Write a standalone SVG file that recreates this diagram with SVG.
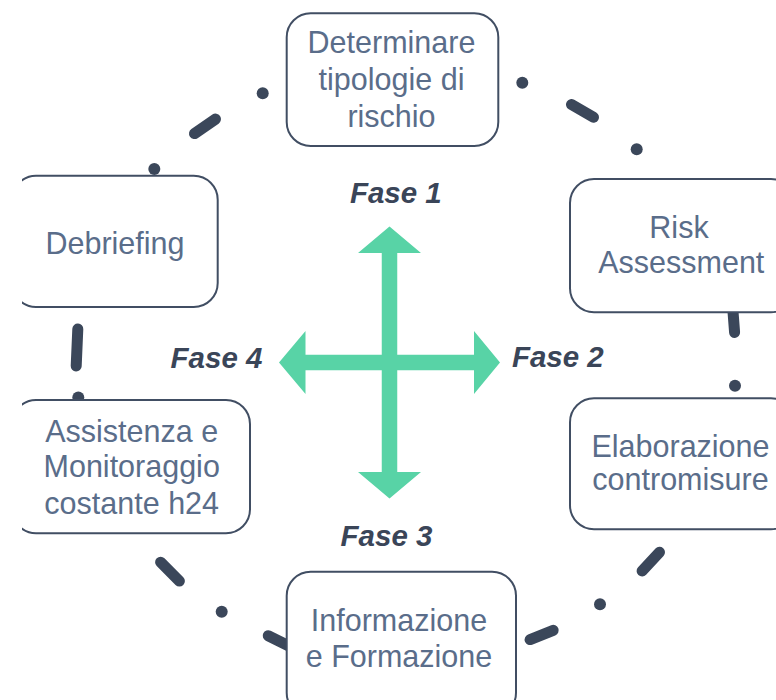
<svg xmlns="http://www.w3.org/2000/svg" width="776" height="700" viewBox="0 0 776 700">
<defs>
<clipPath id="clipL"><rect x="22" y="0" width="754" height="700"/></clipPath>
<style>
.box{fill:#fff;stroke:#414e63;stroke-width:2}
.lbl{font-family:"Liberation Sans",Arial,sans-serif;font-size:30.5px;fill:#5a6d8a;text-anchor:middle}
.fase{font-family:"Liberation Sans",Arial,sans-serif;font-size:29.5px;font-weight:bold;font-style:italic;fill:#3a4558;text-anchor:middle}
.ring line{stroke:#3b475a;stroke-width:11;stroke-linecap:round}
.ring circle{fill:#3b475a}
</style>
</defs>
<rect width="776" height="700" fill="#fff"/>
<g id="connectors" class="ring">
<circle cx="262.7" cy="93.3" r="6"/>
<line x1="194.5" y1="133.6" x2="215.5" y2="119.1"/>
<circle cx="154.3" cy="169" r="6"/>
<line x1="77.8" y1="329" x2="76.2" y2="366"/>
<circle cx="78.3" cy="397.5" r="6"/>
<line x1="160.6" y1="562.2" x2="179.4" y2="581.1"/>
<circle cx="221.7" cy="611.7" r="6"/>
<line x1="268.2" y1="635.8" x2="295" y2="649"/>
<line x1="530.1" y1="639.6" x2="553.2" y2="630.3"/>
<circle cx="600" cy="604.3" r="6"/>
<line x1="642.1" y1="571" x2="659.5" y2="552.3"/>
<circle cx="735" cy="385.7" r="6"/>
<line x1="732.5" y1="305" x2="734.6" y2="332.5"/>
<circle cx="636.7" cy="149.3" r="6"/>
<line x1="571.5" y1="104.5" x2="593.5" y2="117.2"/>
<circle cx="522.3" cy="82.7" r="6"/>
</g>
<g id="cross">
<polygon fill="#58d3a6" points="389.5,226.5 421,253 397.25,253 397.25,354.75 474,354.75 474,331 500,362.5 474,394 474,370.25 397.25,370.25 397.25,472 421,472 389.5,498.5 358,472 381.75,472 381.75,370.25 305.5,370.25 305.5,394 279,362.5 305.5,331 305.5,354.75 381.75,354.75 381.75,253 358,253"/>
</g>
<g id="node-tipologie">
<rect class="box" x="286.7" y="13.3" width="211.6" height="132.7" rx="24"/>
<text class="lbl" x="391.5" y="53.3">Determinare</text>
<text class="lbl" x="391.5" y="90.3">tipologie di</text>
<text class="lbl" x="391.5" y="127">rischio</text>
</g>
<g id="node-risk">
<rect class="box" x="570" y="179" width="225" height="133.3" rx="24"/>
<text class="lbl" x="679" y="238.3">Risk</text>
<text class="lbl" x="681.3" y="273.3">Assessment</text>
</g>
<g id="node-elaborazione">
<rect class="box" x="570" y="398.3" width="225" height="131" rx="24"/>
<text class="lbl" x="680.5" y="456.7">Elaborazione</text>
<text class="lbl" x="680.5" y="490">contromisure</text>
</g>
<g id="node-informazione">
<rect class="box" x="286.7" y="571.7" width="229.3" height="145" rx="24"/>
<text class="lbl" x="399" y="630.7">Informazione</text>
<text class="lbl" x="399" y="667.3">e Formazione</text>
</g>
<g id="node-assistenza" clip-path="url(#clipL)">
<rect class="box" x="12" y="400" width="238" height="133.3" rx="24"/>
<text class="lbl" x="131.7" y="441.7">Assistenza e</text>
<text class="lbl" x="131.7" y="477.3">Monitoraggio</text>
<text class="lbl" x="131.7" y="514">costante h24</text>
</g>
<g id="node-debriefing" clip-path="url(#clipL)">
<rect class="box" x="12" y="175.7" width="205.7" height="131.3" rx="24"/>
<text class="lbl" x="115" y="254">Debriefing</text>
</g>
<g id="labels">
<text class="fase" x="395.8" y="202.7">Fase 1</text>
<text class="fase" x="557.8" y="366.7">Fase 2</text>
<text class="fase" x="386.5" y="546">Fase 3</text>
<text class="fase" x="216.5" y="368">Fase 4</text>
</g>
</svg>
